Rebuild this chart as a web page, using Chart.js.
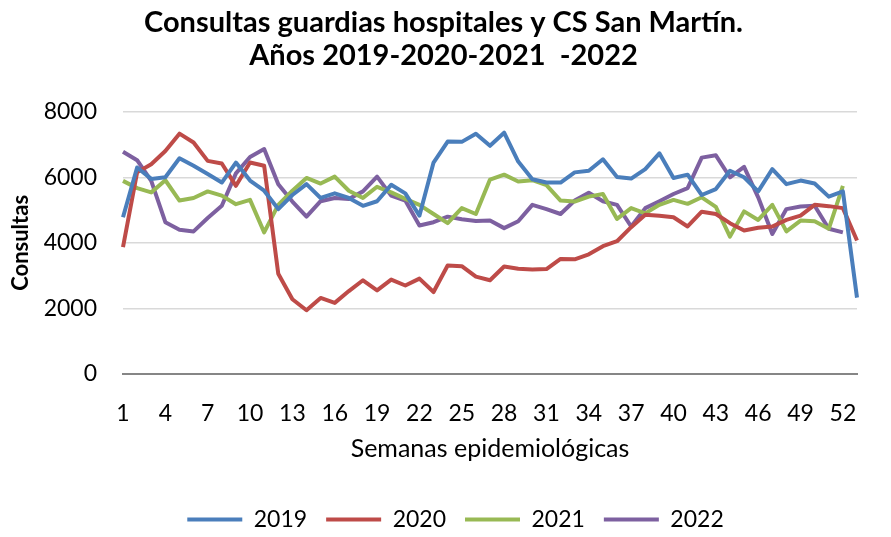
<!DOCTYPE html>
<html>
<head>
<meta charset="utf-8">
<script src="https://cdn.jsdelivr.net/npm/chart.js@4"></script>
<style>
  html, body { margin: 0; padding: 0; background: #fff; }
  #wrap { width: 891px; height: 537px; position: relative; }
</style>
</head>
<body>
<div id="wrap"><canvas id="chart"></canvas></div>
<script>
// semanas epidemiológicas
const weeks = [1, 2, 3, 4, 5, 6, 7, 8, 9, 10, 11, 12, 13, 14, 15, 16, 17, 18, 19, 20,
  21, 22, 23, 24, 25, 26, 27, 28, 29, 30, 31, 32, 33, 34, 35, 36, 37, 38, 39, 40,
  41, 42, 43, 44, 45, 46, 47, 48, 49, 50, 51, 52, 53];

// consultas por año
const y2019 = [4780, 6300, 5950, 6000, 6580, 6350, 6100, 5840, 6450, 5900, 5590, 5030, 5460,
  5790, 5370, 5510, 5370, 5130, 5270, 5770, 5510, 4830, 6450, 7090, 7080, 7330, 6960, 7360,
  6480, 5940, 5840, 5840, 6150, 6200, 6550, 6010, 5960, 6250, 6730, 5980, 6080, 5460, 5640,
  6200, 6000, 5570, 6250, 5790, 5900, 5810, 5410, 5570, 2330];
const y2020 = [3870, 6150, 6400, 6800, 7330, 7060, 6500, 6420, 5740, 6450, 6350, 3060, 2280,
  1945, 2320, 2170, 2530, 2860, 2550, 2880, 2700, 2910, 2500, 3310, 3290, 2970, 2860, 3280,
  3210, 3190, 3200, 3510, 3500, 3650, 3900, 4050, 4480, 4860, 4830, 4780, 4500, 4950, 4880,
  4600, 4380, 4460, 4500, 4700, 4830, 5160, 5120, 5060, 4070];
const y2021 = [5890, 5670, 5540, 5910, 5290, 5370, 5570, 5440, 5180, 5310, 4320, 5160, 5590,
  5980, 5810, 6020, 5590, 5370, 5710, 5540, 5340, 5160, 4880, 4600, 5060, 4880, 5930, 6080,
  5870, 5910, 5760, 5290, 5260, 5410, 5490, 4730, 5060, 4900, 5160, 5310, 5190, 5390, 5100,
  4190, 4960, 4700, 5160, 4350, 4680, 4660, 4430, 5740, null];
const y2022 = [6780, 6520, 5890, 4630, 4400, 4350, 4760, 5130, 6120, 6620, 6860, 5790, 5260,
  4800, 5270, 5370, 5340, 5570, 6020, 5440, 5290, 4530, 4630, 4800, 4720, 4670, 4680, 4450,
  4660, 5160, 5030, 4880, 5290, 5530, 5270, 5160, 4500, 5060, 5270, 5490, 5670, 6600, 6670,
  6000, 6320, 5390, 4270, 5030, 5110, 5130, 4430, 4320, null];

const seriesNames = ["2019", "2020", "2021", "2022"];
const colors = ["#4a7ebb", "#be4b48", "#98b954", "#7d60a0"];

const font = "Lato";

function mkSet(name, data, color) {
  return {
    label: name,
    data: data,
    borderColor: color,
    backgroundColor: color,
    borderWidth: 4,
    pointRadius: 0,
    tension: 0,
    borderJoinStyle: "round",
    spanGaps: false
  };
}

// nudge the legend a bit to the right, like the original
const legendShift = {
  id: "legendShift",
  afterLayout(chart) {
    if (chart.legend) {
      chart.legend.left += 12;
      chart.legend.right += 12;
    }
  }
};

new Chart(document.getElementById("chart"), {
  type: "line",
  data: {
    labels: weeks,
    datasets: [
      mkSet(seriesNames[0], y2019, colors[0]),
      mkSet(seriesNames[1], y2020, colors[1]),
      mkSet(seriesNames[2], y2021, colors[2]),
      mkSet(seriesNames[3], y2022, colors[3])
    ]
  },
  plugins: [legendShift],
  options: {
    responsive: true,
    maintainAspectRatio: false,
    animation: false,
    layout: { padding: { left: 0, right: 4, top: 0, bottom: -4 } },
    plugins: {
      title: {
        display: true,
        text: ["Consultas guardias hospitales y CS San Martín.", "Años 2019-2020-2021  -2022"],
        color: "#000",
        font: { family: font, size: 29, weight: "bold", lineHeight: 1.15 },
        padding: { top: 6, bottom: 39 }
      },
      legend: {
        position: "bottom",
        labels: {
          color: "#000",
          font: { family: font, size: 23 },
          boxWidth: 55,
          boxHeight: 4,
          padding: 19,
          generateLabels: function (chart) {
            return Chart.defaults.plugins.legend.labels.generateLabels(chart).map(function (l) {
              l.lineWidth = 0;
              return l;
            });
          }
        }
      },
      tooltip: { enabled: false }
    },
    scales: {
      x: {
        grid: { display: false, drawTicks: false },
        border: { display: true, color: "#868686", width: 2 },
        ticks: {
          color: "#000",
          font: { family: font, size: 23, lineHeight: 0.52 },
          autoSkip: false,
          maxRotation: 0,
          padding: 34,
          callback: function (val, idx) {
            return idx % 3 === 0 ? this.getLabelForValue(val) : "";
          }
        },
        title: {
          display: true,
          text: "Semanas epidemiológicas",
          color: "#000",
          font: { family: font, size: 25, lineHeight: 1 },
          padding: { top: -18, bottom: 28 }
        }
      },
      y: {
        min: 0,
        max: 8000,
        afterFit: function (scale) { scale.width = 123; },
        grid: { color: "#d9d9d9", lineWidth: 1.5, drawTicks: false },
        border: { display: false },
        ticks: {
          stepSize: 2000,
          color: "#000",
          font: { family: font, size: 23 },
          padding: 26,
          callback: function (val) { return String(val); }
        },
        title: {
          display: true,
          text: "Consultas",
          color: "#000",
          font: { family: font, size: 22, weight: "bold" },
          padding: { top: 8, bottom: 0 }
        }
      }
    }
  }
});
</script>
</body>
</html>
